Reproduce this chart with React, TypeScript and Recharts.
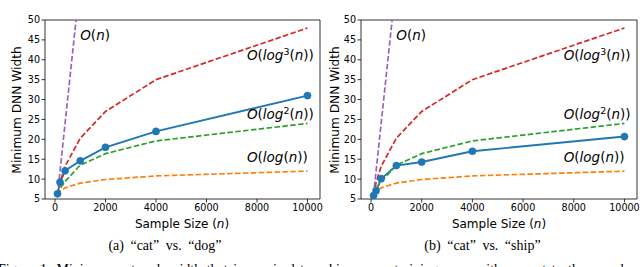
import React from 'react';
import { LineChart, Line, XAxis, YAxis, ReferenceArea, ReferenceDot } from 'recharts';

const sampleSizes = [100, 200, 400, 1000, 2000, 4000, 10000];
const catDogWidth = [6.3, 9.2, 12.1, 14.6, 18.0, 22.0, 31.0];
const catShipWidth = [5.85, 7.1, 10.1, 13.4, 14.3, 17.0, 20.7];
const refLog = [6.0, 6.9, 7.8, 9.0, 9.9, 10.8, 12.0];
const refLog2 = [6.0, 7.6, 9.4, 13.5, 16.4, 19.6, 24.0];
const refLog3 = [6.0, 9.1, 13.2, 20.3, 27.0, 35.0, 48.0];
const refLinear = [6, 12, 24, 60];
const xTicks = [0, 2000, 4000, 6000, 8000, 10000];
const yTicks = [5, 10, 15, 20, 25, 30, 35, 40, 45, 50];
const xDomain = [-395, 10495];
const yDomain = [5, 50];

type Ann = { x: number; y: number; base: string; pow?: string };
const annotations: Ann[] = [
  { x: 1000, y: 45, base: 'n' },
  { x: 7600, y: 40, base: 'log', pow: '3' },
  { x: 7600, y: 25, base: 'log', pow: '2' },
  { x: 7600, y: 14.3, base: 'log' },
];

const FONT = '"DejaVu Sans", sans-serif';
const SERIF = '"Liberation Serif", "DejaVu Serif", serif';

const buildRows = (measured: number[]) =>
  sampleSizes.map((n, i) => ({
    n,
    measured: measured[i],
    log: refLog[i],
    log2: refLog2[i],
    log3: refLog3[i],
    linear: i < refLinear.length ? refLinear[i] : undefined,
  }));

const AnnText = (a: Ann) => (props: any) => {
  const { cx, cy } = props;
  const fs = 13.5;
  return (
    <text x={cx} y={cy} fontFamily={FONT} fontSize={fs} fill="#000">
      <tspan fontStyle="italic">O</tspan>
      <tspan>(</tspan>
      {a.base === 'n' ? (
        <tspan fontStyle="italic">n</tspan>
      ) : (
        <>
          <tspan fontStyle="italic">log</tspan>
          {a.pow ? (
            <>
              <tspan fontSize={fs * 0.7} dy={-5}>{a.pow}</tspan>
              <tspan dy={5}>(</tspan>
            </>
          ) : (
            <tspan>(</tspan>
          )}
          <tspan fontStyle="italic">n</tspan>
          <tspan>)</tspan>
        </>
      )}
      <tspan>)</tspan>
    </text>
  );
};

const dash = '5.5 2.4';

const Panel = ({ measured, width, marginLeft, marginRight }: { measured: number[]; width: number; marginLeft: number; marginRight: number }) => {
  const rows = buildRows(measured);
  const tick = { fontFamily: FONT, fontSize: 9.6, fill: '#000' };
  return (
    <LineChart
      width={width}
      height={267}
      data={rows}
      margin={{ top: 20, right: marginRight, bottom: 0, left: marginLeft }}
      style={{ overflow: 'visible' }}
    >
      <XAxis
        type="number"
        dataKey="n"
        domain={xDomain}
        allowDataOverflow
        ticks={xTicks}
        tick={tick}
        tickSize={3.5}
        tickMargin={1.5}
        tickLine={{ stroke: '#000', strokeWidth: 0.8 }}
        axisLine={false}
        height={68}
        interval={0}
      />
      <YAxis
        type="number"
        domain={yDomain}
        allowDataOverflow
        ticks={yTicks}
        tick={tick}
        tickSize={3.5}
        tickMargin={1.5}
        tickLine={{ stroke: '#000', strokeWidth: 0.8 }}
        axisLine={false}
        width={30}
        interval={0}
      />
      <ReferenceArea x1={xDomain[0]} x2={xDomain[1]} y1={yDomain[0]} y2={yDomain[1]} fill="none" fillOpacity={0} stroke="#000" strokeWidth={0.8} />
      <Line dataKey="measured" stroke="#1f77b4" strokeWidth={1.9} dot={{ r: 3.6, fill: '#1f77b4', stroke: '#1f77b4', strokeWidth: 0.5 }} isAnimationActive={false} />
      <Line dataKey="log" stroke="#ff7f0e" strokeWidth={1.7} strokeDasharray={dash} dot={false} isAnimationActive={false} />
      <Line dataKey="log2" stroke="#2ca02c" strokeWidth={1.7} strokeDasharray={dash} dot={false} isAnimationActive={false} />
      <Line dataKey="log3" stroke="#d62728" strokeWidth={1.7} strokeDasharray={dash} dot={false} isAnimationActive={false} />
      <Line dataKey="linear" stroke="#9467bd" strokeWidth={1.7} strokeDasharray={dash} dot={false} isAnimationActive={false} />
      {annotations.map((a, i) => (
        <ReferenceDot key={i} x={a.x} y={a.y} r={0} shape={AnnText(a)} />
      ))}
    </LineChart>
  );
};

const AxisTitles = ({ cx, ylx }: { cx: number; ylx: number }) => (
  <>
    <text x={cx} y={228} textAnchor="middle" fontFamily={FONT} fontSize={12} fill="#000">
      Sample Size (<tspan fontStyle="italic">n</tspan>)
    </text>
    <text
      x={0}
      y={0}
      transform={`translate(${ylx},110) rotate(-90)`}
      textAnchor="middle"
      dominantBaseline="central"
      fontFamily={FONT}
      fontSize={12.2}
      fill="#000"
    >
      Minimum DNN Width
    </text>
  </>
);

export default function App() {
  return (
    <div style={{ position: 'absolute', left: 0, top: 0, width: 640, height: 267, overflow: 'hidden', background: '#fff' }}>
      <div style={{ position: 'absolute', left: 0, top: 0 }}>
        <Panel measured={catDogWidth} width={330} marginLeft={15} marginRight={10} />
      </div>
      <div style={{ position: 'absolute', left: 330, top: 0 }}>
        <Panel measured={catShipWidth} width={310} marginLeft={1} marginRight={3} />
      </div>
      <svg width={640} height={267} style={{ position: 'absolute', left: 0, top: 0, pointerEvents: 'none' }}>
        <AxisTitles cx={182} ylx={17} />
        <AxisTitles cx={499} ylx={335} />
        <text x={165} y={250} textAnchor="middle" fontFamily={SERIF} fontSize={14} wordSpacing={3} fill="#000">
          (a) “cat” vs. “dog”
        </text>
        <text x={482.5} y={250} textAnchor="middle" fontFamily={SERIF} fontSize={14} wordSpacing={3} fill="#000">
          (b) “cat” vs. “ship”
        </text>
        <text x={-2} y={274} fontFamily={SERIF} fontSize={14} wordSpacing={2} fill="#000">
          Figure 1: Minimum network width that is required to achieve zero training error with respect to the sample size
        </text>
      </svg>
    </div>
  );
}
